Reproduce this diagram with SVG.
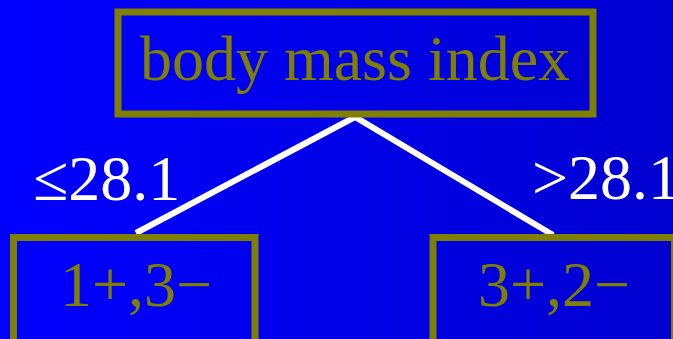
<svg xmlns="http://www.w3.org/2000/svg" width="673" height="339" viewBox="0 0 673 339">
<defs>
<linearGradient id="bg" x1="0" y1="0" x2="1" y2="0">
<stop offset="0" stop-color="#0000ff"/>
<stop offset="1" stop-color="#0000d0"/>
</linearGradient>
</defs>
<style>
.box{fill:none;stroke:#808000;stroke-width:7}
.nt{font-family:"Liberation Serif","Times New Roman",serif;font-size:64px;fill:#808000;text-anchor:middle}
.lbl{font-family:"Liberation Serif","Times New Roman",serif;font-size:64px;fill:#ffffff}
.edge{stroke:#ffffff;stroke-width:6;fill:none}
</style>
<rect width="673" height="339" fill="url(#bg)"/>
<g id="connectors">
<path class="edge" d="M136,233 L355,117 L553,235"/>
<text class="lbl" x="33" y="200">≤28.1</text>
<text class="lbl" x="532" y="199">&gt;28.1</text>
</g>
<g id="root">
<rect class="box" x="118" y="12" width="475" height="102"/>
<text class="nt" x="355" y="80">body mass index</text>
</g>
<g id="left">
<rect class="box" x="13.5" y="237.5" width="241.5" height="110"/>
<text class="nt" x="136" y="306">1+,3−</text>
</g>
<g id="right">
<rect class="box" x="433" y="237.5" width="241.5" height="110"/>
<text class="nt" x="554" y="306">3+,2−</text>
</g>
</svg>
